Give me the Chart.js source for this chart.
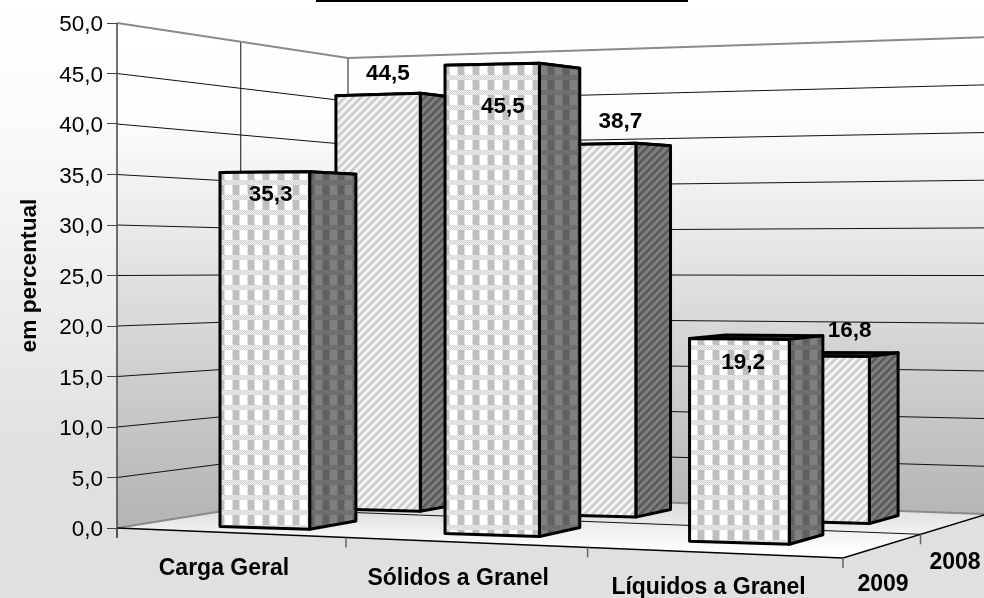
<!DOCTYPE html>
<html lang="pt-BR">
<head>
    <meta charset="UTF-8" />
    <title>Movimentação por tipo de carga</title>
    <script src="https://cdn.jsdelivr.net/npm/chart.js"></script>
    <style>
        html, body { margin: 0; padding: 0; background: #fff; }
        #wrap { position: relative; width: 984px; height: 598px; overflow: hidden; }
        canvas { display: block; }
    </style>
</head>
<body>
<div id="wrap"><canvas id="grafico" width="984" height="598"></canvas></div>

<script>
    const categorias = ['Carga Geral', 'Sólidos a Granel', 'Líquidos a Granel'];
    const anos = ['2008', '2009'];
    const valores2008 = [44.5, 38.7, 16.8];
    const valores2009 = [35.3, 45.5, 19.2];
    const marcasY = [0, 5, 10, 15, 20, 25, 30, 35, 40, 45, 50];

    const FONTE = '"Liberation Sans", Arial, sans-serif';
    const TAM = 22.5;

    // cantos do piso na tela: frente-esq, frente-dir, fundo-dir, fundo-esq
    const PISO = [[117, 528], [843, 558], [987, 514], [348, 491]];
    // profundidade de cada fileira (0 = frente, 1 = fundo)
    const FILEIRAS = { 0: [0.59, 0.79], 1: [0.09, 0.29] };
    const DESVIO_U = [0.018, 0.01, 0.012];
    // ajuste fino dos rotulos de valor, por dataset e categoria
    const AJUSTE_ROTULO = {
        0: [[10, -21], [29, -22], [27, -25]],
        1: [[6, 23], [11, 43], [4, 24]]
    };
    const AJUSTE_CATEGORIA = [[-6, 36], [-7, 36], [-5, 35]];

    function fmt(v) { return v.toFixed(1).replace('.', ','); }

    // homografia do quadrado unitario (u, v) para o piso
    function montarPiso() {
        const [p0, p1, p2, p3] = PISO;
        const dx1 = p1[0] - p2[0], dx2 = p3[0] - p2[0], sx = p0[0] - p1[0] + p2[0] - p3[0];
        const dy1 = p1[1] - p2[1], dy2 = p3[1] - p2[1], sy = p0[1] - p1[1] + p2[1] - p3[1];
        const det = dx1 * dy2 - dx2 * dy1;
        const g = (sx * dy2 - dx2 * sy) / det;
        const h = (dx1 * sy - sx * dy1) / det;
        return {
            a: p1[0] - p0[0] + g * p1[0], b: p3[0] - p0[0] + h * p3[0], c: p0[0],
            d: p1[1] - p0[1] + g * p1[1], e: p3[1] - p0[1] + h * p3[1], f: p0[1],
            g, h
        };
    }
    const H = montarPiso();

    // (u, v, alturaPx) -> ponto na tela; alturaPx vem da escala Y do grafico
    function proj(u, v, alt) {
        const w = H.g * u + H.h * v + 1;
        const x = (H.a * u + H.b * v + H.c) / w;
        const y = (H.d * u + H.e * v + H.f) / w;
        const wa = 1 - 0.075 * u + 0.166 * v - 0.032 * u * v;
        return [x, y - (alt || 0) / wa];
    }

    // as barras ficam um pouco acima do piso conforme vao para a direita
    function projBarra(u, v, alt) {
        const p = proj(u, v, alt);
        return [p[0], p[1] - 7 * u + (v > 0.5 ? 2 : 0)];
    }

    function caminho(ctx, pts) {
        ctx.beginPath();
        pts.forEach((p, i) => i ? ctx.lineTo(p[0], p[1]) : ctx.moveTo(p[0], p[1]));
    }

    function linha(ctx, pts, cor, larg) {
        caminho(ctx, pts);
        ctx.strokeStyle = cor;
        ctx.lineWidth = larg;
        ctx.stroke();
    }

    function contorno(ctx, pts) {
        caminho(ctx, pts);
        ctx.closePath();
        ctx.strokeStyle = '#000';
        ctx.lineWidth = 3;
        ctx.stroke();
    }

    function azulejo(tam, pintar) {
        const c = document.createElement('canvas');
        c.width = c.height = tam;
        const g = c.getContext('2d');
        for (let y = 0; y < tam; y++) {
            for (let x = 0; x < tam; x++) {
                g.fillStyle = pintar(x, y);
                g.fillRect(x, y, 1, 1);
            }
        }
        return c;
    }

    function xadrez(claro, medio, esc1, esc2) {
        return azulejo(15, (x, y) => {
            const pont = (x + y) % 2 === 0;
            if (y < 5) return pont ? esc1 : esc2;
            if (x === 7 || x === 14) return pont ? esc1 : esc2;
            return x < 7 ? claro : medio;
        });
    }

    function listras(c1, c2) {
        return azulejo(8, (x, y) => ((x + y) % 8 < 4 ? c1 : c2));
    }

    const padroes = {};
    function prepararPadroes(ctx) {
        padroes.frente1 = ctx.createPattern(xadrez('#ffffff', '#bfbfbf', '#d0d0d0', '#f0f0f0'), 'repeat');
        padroes.lado1 = ctx.createPattern(xadrez('#808080', '#606060', '#666666', '#787878'), 'repeat');
        padroes.frente0 = ctx.createPattern(listras('#cfcfcf', '#f4f4f4'), 'repeat');
        padroes.lado0 = ctx.createPattern(listras('#5c5c5c', '#7e7e7e'), 'repeat');
    }

    const cena3d = {
        id: 'cena3d',
        beforeDraw(chart) {
            const { ctx, width, height, scales } = chart;
            const y = scales.y;
            const topo = y.bottom - y.getPixelForValue(50);
            if (!padroes.frente1) prepararPadroes(ctx);

            // fundo
            let gr = ctx.createLinearGradient(0, 0, 0, height);
            gr.addColorStop(0, '#ffffff');
            gr.addColorStop(0.2, '#fbfbfb');
            gr.addColorStop(0.77, '#e0e0e0');
            gr.addColorStop(1, '#e0e0e0');
            ctx.fillStyle = gr;
            ctx.fillRect(0, 0, width, height);

            // paredes
            gr = ctx.createLinearGradient(0, 40, 0, 510);
            gr.addColorStop(0, '#ffffff');
            gr.addColorStop(0.17, '#fdfdfd');
            gr.addColorStop(1, '#b6b6b6');
            ctx.fillStyle = gr;
            caminho(ctx, [proj(0, 0, 0), proj(0, 1, 0), proj(1, 1, 0), proj(1, 1, topo), proj(0, 1, topo), proj(0, 0, topo)]);
            ctx.fill();

            // piso
            gr = ctx.createLinearGradient(0, 495, 0, 550);
            gr.addColorStop(0, '#d4d4d4');
            gr.addColorStop(1, '#ffffff');
            ctx.fillStyle = gr;
            caminho(ctx, [proj(0, 0), proj(1, 0), proj(1, 1), proj(0, 1)]);
            ctx.fill();

            // grade das paredes
            marcasY.forEach(m => {
                const alt = y.bottom - y.getPixelForValue(m);
                if (m === 0 || m === 50) return;
                linha(ctx, [proj(0, 0, alt), proj(0, 1, alt), proj(1, 1, alt)], '#111', 1);
            });
            linha(ctx, [proj(0, 0.5, 0), proj(0, 0.5, topo)], '#111', 1);
            linha(ctx, [proj(0, 0.5), proj(1, 0.5)], '#111', 1);
            linha(ctx, [proj(0, 0, topo), proj(0, 1, topo), proj(1, 1, topo)], '#8a8a8a', 2);
            linha(ctx, [proj(0, 0), proj(0, 1), proj(1, 1)], '#8a8a8a', 2);
            linha(ctx, [proj(0, 1), proj(0, 1, topo)], '#8a8a8a', 2);

            // borda do piso e marcas dos eixos
            linha(ctx, [proj(0, 0), proj(1, 0), proj(1, 1)], '#000', 1.5);
            [0, 1 / 3, 2 / 3, 1].forEach(u => {
                const p = proj(u, 0);
                linha(ctx, [p, [p[0], p[1] + 10]], '#666', 1.5);
            });
            [0.5, 1].forEach(v => {
                const p = proj(1, v);
                linha(ctx, [p, [p[0], p[1] + 10]], '#666', 1.5);
            });
            linha(ctx, [proj(0, 0, topo), [proj(0, 0)[0], proj(0, 0)[1] + 10]], '#444', 1.5);

            // faixa preta cortada do titulo
            ctx.fillStyle = '#000';
            ctx.fillRect(316, 0, 372, 2);
        },
        afterDatasetsDraw(chart) {
            const { ctx, scales } = chart;
            const x = scales.x;
            const uDe = (px, i) => (px - x.left) / x.width + DESVIO_U[i];

            // do fundo para a frente, da esquerda para a direita
            [0, 1].forEach(ds => {
                const [v0, v1] = FILEIRAS[ds];
                chart.getDatasetMeta(ds).data.forEach((el, i) => {
                    const u0 = uDe(el.x - el.width / 2, i);
                    const u1 = uDe(el.x + el.width / 2, i);
                    const alt = el.base - el.y;
                    const frente = [projBarra(u0, v0), projBarra(u1, v0), projBarra(u1, v0, alt), projBarra(u0, v0, alt)];
                    const lado = [projBarra(u1, v0), projBarra(u1, v1), projBarra(u1, v1, alt), projBarra(u1, v0, alt)];
                    const cima = [projBarra(u0, v0, alt), projBarra(u1, v0, alt), projBarra(u1, v1, alt), projBarra(u0, v1, alt)];

                    ctx.lineJoin = 'round';
                    ctx.fillStyle = '#333';
                    caminho(ctx, cima); ctx.closePath(); ctx.fill();
                    contorno(ctx, cima);
                    ctx.fillStyle = padroes['lado' + ds];
                    caminho(ctx, lado); ctx.closePath(); ctx.fill();
                    contorno(ctx, lado);
                    ctx.fillStyle = padroes['frente' + ds];
                    caminho(ctx, frente); ctx.closePath(); ctx.fill();
                    contorno(ctx, frente);
                });
            });

            // rotulos
            ctx.fillStyle = '#000';
            ctx.textAlign = 'center';
            ctx.textBaseline = 'middle';
            ctx.font = 'bold ' + TAM + 'px ' + FONTE;
            [0, 1].forEach(ds => {
                const v0 = FILEIRAS[ds][0];
                const serie = chart.data.datasets[ds].data;
                chart.getDatasetMeta(ds).data.forEach((el, i) => {
                    const p = projBarra(uDe(el.x, i), v0, el.base - el.y);
                    const aj = AJUSTE_ROTULO[ds][i];
                    ctx.fillText(fmt(serie[i]), p[0] + aj[0], p[1] + aj[1]);
                });
            });

            ctx.font = 'bold 23px ' + FONTE;
            categorias.forEach((nome, i) => {
                const p = proj((i + 0.5) / 3, 0);
                ctx.fillText(nome, p[0] + AJUSTE_CATEGORIA[i][0], p[1] + AJUSTE_CATEGORIA[i][1]);
            });
            ctx.fillText(anos[1], 883, 585);
            ctx.fillText(anos[0], 955, 563);
        }
    };

    new Chart(document.getElementById('grafico'), {
        type: 'bar',
        data: {
            labels: categorias,
            datasets: [
                { label: anos[0], data: valores2008, backgroundColor: 'rgba(0,0,0,0)', grouped: false },
                { label: anos[1], data: valores2009, backgroundColor: 'rgba(0,0,0,0)', grouped: false }
            ]
        },
        options: {
            responsive: false,
            animation: false,
            devicePixelRatio: 1,
            layout: { padding: { top: 23, right: 141, left: 0, bottom: 0 } },
            categoryPercentage: 1,
            barPercentage: 0.395,
            plugins: { legend: { display: false }, tooltip: { enabled: false } },
            scales: {
                x: {
                    grid: { display: false },
                    border: { display: false },
                    ticks: { display: false },
                    afterFit: s => { s.height = 70; }
                },
                y: {
                    min: 0,
                    max: 50,
                    grid: { drawOnChartArea: false, color: '#444', tickLength: 10, lineWidth: 1 },
                    border: { display: false },
                    ticks: {
                        stepSize: 5,
                        padding: 4,
                        labelOffset: 2,
                        color: '#000',
                        font: { family: FONTE, size: TAM },
                        callback: v => fmt(v)
                    },
                    title: {
                        display: true,
                        text: 'em percentual',
                        color: '#000',
                        font: { family: FONTE, size: 22.7, weight: 'bold' },
                        padding: { top: 16, bottom: 0 }
                    },
                    afterFit: s => { s.width = 117; }
                }
            }
        },
        plugins: [cena3d]
    });
</script>
</body>
</html>
